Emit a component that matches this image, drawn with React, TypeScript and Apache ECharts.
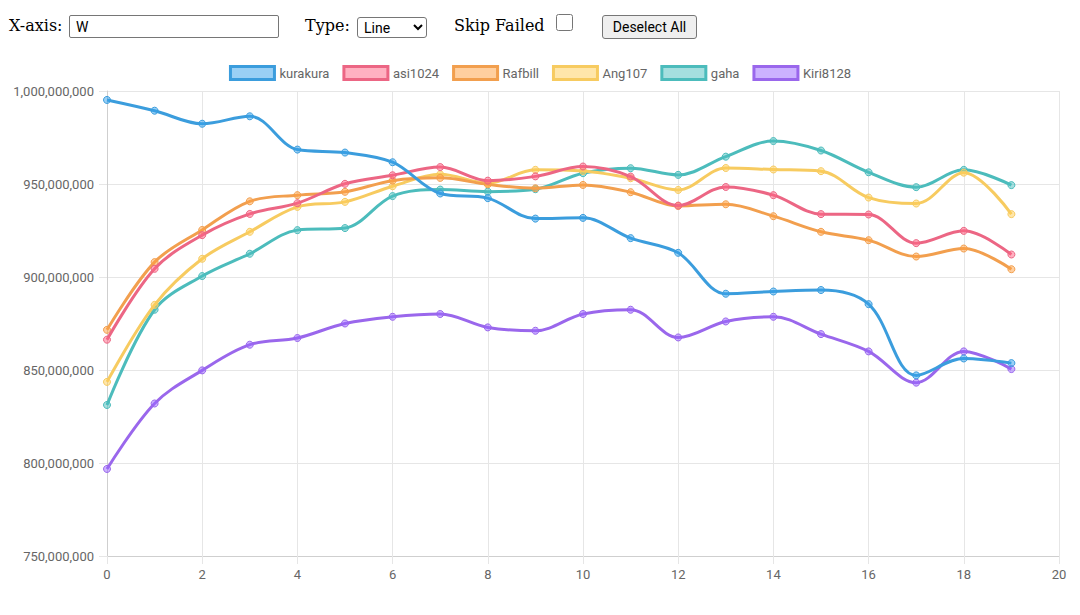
import React, { useEffect, useRef } from "react";
import * as echarts from "echarts";

const xValues = [0, 1, 2, 3, 4, 5, 6, 7, 8, 9, 10, 11, 12, 13, 14, 15, 16, 17, 18, 19];

const seriesNames = ["kurakura", "asi1024", "Rafbill", "Ang107", "gaha", "Kiri8128"];

const kurakura = [995200000, 989400000, 982400000, 986400000, 968500000, 966900000, 961700000, 944900000, 942400000, 931400000, 931800000, 920900000, 913000000, 891000000, 892200000, 893000000, 885400000, 847100000, 856200000, 853700000];
const asi1024 = [866300000, 904400000, 922500000, 933900000, 939700000, 950100000, 954700000, 959100000, 951800000, 954100000, 959400000, 954000000, 938400000, 948400000, 944000000, 933800000, 933600000, 918200000, 924800000, 912100000];
const rafbill = [871600000, 908000000, 925300000, 940700000, 944000000, 945800000, 951800000, 953300000, 949800000, 947700000, 949500000, 945600000, 938200000, 939100000, 932700000, 924300000, 919800000, 911000000, 915300000, 904200000];
const ang107 = [843600000, 885000000, 909800000, 924300000, 937700000, 940400000, 948800000, 955200000, 950400000, 957600000, 957000000, 953100000, 946800000, 958600000, 957800000, 956900000, 942700000, 939500000, 956100000, 933800000];
const gaha = [831200000, 882400000, 900500000, 912500000, 925200000, 926300000, 943500000, 947000000, 945900000, 947200000, 955800000, 958500000, 954900000, 964700000, 973100000, 968000000, 956300000, 948300000, 957600000, 949400000];
const kiri8128 = [796800000, 832000000, 849800000, 863600000, 867200000, 875000000, 878600000, 880100000, 872900000, 871100000, 880100000, 882400000, 867500000, 876100000, 878600000, 869300000, 860000000, 843200000, 860000000, 850500000];

const seriesValues = [kurakura, asi1024, rafbill, ang107, gaha, kiri8128];

const lineColors = ["#3b9ddd", "#ec6684", "#f29f4e", "#f7cb60", "#4cbcbc", "#9a67ec"];
const fillColors = [
  "rgba(54,162,235,0.5)",
  "rgba(255,99,132,0.5)",
  "rgba(255,159,64,0.5)",
  "rgba(255,205,86,0.5)",
  "rgba(75,192,192,0.5)",
  "rgba(153,102,255,0.5)",
];

const yMin = 750000000;
const yMax = 1000000000;
const yStep = 50000000;
const xMin = 0;
const xMax = 20;
const xStep = 2;

const serifFont = "'DejaVu Serif', serif";
const sansFont = "Roboto, 'Noto Sans', sans-serif";

function Chart() {
  const ref = useRef<HTMLDivElement>(null);
  useEffect(() => {
    if (!ref.current) return;
    const chart = echarts.init(ref.current, undefined, { renderer: "svg" });
    const n = seriesNames.length;
    chart.setOption({
      animation: false,
      textStyle: { fontFamily: sansFont },
      legend: {
        top: 10,
        left: "center",
        icon: "rect",
        itemWidth: 44,
        itemHeight: 13,
        itemGap: 13,
        textStyle: { color: "#666", fontSize: 13, fontFamily: sansFont },
        data: seriesNames.map((name, i) => ({
          name,
          icon: "rect",
          itemStyle: { color: fillColors[i], borderColor: lineColors[i], borderWidth: 3 },
        })),
      },
      grid: { left: 99, right: 13, top: 41, bottom: 54, containLabel: false },
      xAxis: {
        type: "value",
        min: xMin,
        max: xMax,
        interval: xStep,
        axisLine: { show: true, lineStyle: { color: "#cfcfcf", width: 1 } },
        axisTick: { show: true, length: 8, lineStyle: { color: "#e6e6e6" } },
        axisLabel: { color: "#666", fontSize: 13, margin: 12, fontFamily: sansFont },
        splitLine: { show: true, lineStyle: { color: "#e6e6e6", width: 1 } },
      },
      yAxis: {
        type: "value",
        min: yMin,
        max: yMax,
        interval: yStep,
        axisLine: { show: true, lineStyle: { color: "#cfcfcf", width: 1 } },
        axisTick: { show: true, length: 8, lineStyle: { color: "#e6e6e6" } },
        axisLabel: {
          color: "#666",
          fontSize: 13,
          margin: 13,
          fontFamily: sansFont,
          formatter: (v: number) => v.toLocaleString("en-US"),
        },
        splitLine: { show: true, lineStyle: { color: "#e6e6e6", width: 1 } },
      },
      series: seriesNames.map((name, i) => ({
        name,
        type: "line",
        z: 2 + (n - i),
        smooth: 0.35,
        data: xValues.map((x, j) => [x, seriesValues[i][j]]),
        symbol: "circle",
        symbolSize: 7,
        showSymbol: true,
        lineStyle: { color: lineColors[i], width: 3 },
        itemStyle: { color: fillColors[i], borderColor: lineColors[i], borderWidth: 1 },
        emphasis: { disabled: true },
      })),
    });
    return () => chart.dispose();
  }, []);
  return <div ref={ref} style={{ position: "absolute", left: 0, top: 42, width: 1064, height: 560 }} />;
}

export default function App() {
  const labelStyle: React.CSSProperties = {
    position: "absolute",
    fontFamily: serifFont,
    fontSize: 16,
    color: "#000",
    lineHeight: "20px",
    top: 8,
  };
  return (
    <div style={{ position: "relative", width: 1064, height: 600 }}>
      <span style={{ ...labelStyle, left: 1 }}>X-axis:</span>
      <input
        type="text"
        defaultValue="W"
        style={{
          position: "absolute",
          left: 61,
          top: 7,
          width: 210,
          height: 23,
          boxSizing: "border-box",
          border: "1px solid #767676",
          borderRadius: 2,
          padding: "0 6px",
          fontFamily: sansFont,
          fontSize: 14,
          color: "#000",
          margin: 0,
        }}
      />
      <span style={{ ...labelStyle, left: 297 }}>Type:</span>
      <select
        defaultValue="Line"
        style={{
          position: "absolute",
          left: 349,
          top: 9,
          width: 70,
          height: 21,
          boxSizing: "border-box",
          fontFamily: sansFont,
          fontSize: 14,
          border: "1px solid #767676",
          borderRadius: 3,
          background: "#fff",
          margin: 0,
          padding: "0 2px",
        }}
      >
        <option value="Line">Line</option>
        <option value="Bar">Bar</option>
      </select>
      <span style={{ ...labelStyle, left: 446 }}>Skip Failed</span>
      <input
        type="checkbox"
        style={{ position: "absolute", left: 548, top: 6, width: 17, height: 17, margin: 0 }}
      />
      <button
        style={{
          position: "absolute",
          left: 594,
          top: 7,
          width: 95,
          height: 24,
          boxSizing: "border-box",
          fontFamily: sansFont,
          fontSize: 14,
          color: "#000",
          background: "#efefef",
          border: "1px solid #767676",
          borderRadius: 3,
          padding: 0,
          margin: 0,
        }}
      >
        Deselect All
      </button>
      <Chart />
    </div>
  );
}
